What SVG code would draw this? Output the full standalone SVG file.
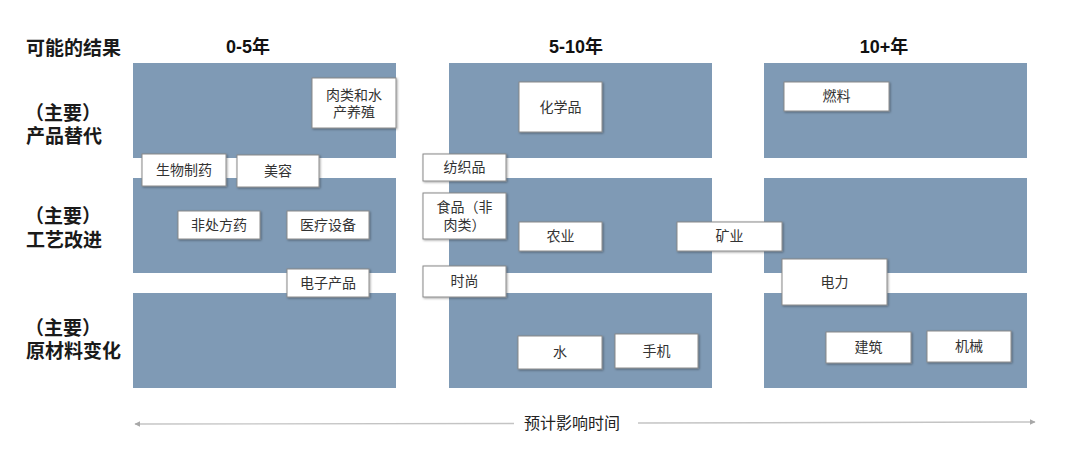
<svg xmlns="http://www.w3.org/2000/svg" width="1080" height="466" viewBox="0 0 1080 466">
<style>
.blk{fill:#7f9ab5}
.box{fill:#ffffff;stroke:#8a8a8a;stroke-width:1;filter:url(#sh)}
.t{font-family:"Noto Sans CJK SC","Liberation Sans",sans-serif;font-size:14px;fill:#333;text-anchor:middle}
.hd{font-family:"Liberation Sans","Noto Sans CJK SC",sans-serif;font-size:18px;font-weight:bold;fill:#111;text-anchor:middle}
.lb{font-family:"Noto Sans CJK SC","Liberation Sans",sans-serif;font-size:19px;font-weight:bold;fill:#1a1a1a}
.ax{stroke:#c4c4c4;stroke-width:1.4;fill:none}
</style>
<defs>
<filter id="sh" x="-10%" y="-10%" width="130%" height="140%">
<feDropShadow dx="1" dy="1" stdDeviation="0.8" flood-color="#000" flood-opacity="0.35"/>
</filter>
<marker id="ah" viewBox="0 0 10 10" refX="9" refY="5" markerWidth="6" markerHeight="6" orient="auto-start-reverse" markerUnits="userSpaceOnUse">
<path d="M0,0 L10,5 L0,10 z" fill="#a8a8a8"/>
</marker>
</defs>

<g id="headers">
<text class="lb" x="26" y="55">可能的结果</text>
<text class="hd" x="248" y="53">0-5年</text>
<text class="hd" x="576" y="53">5-10年</text>
<text class="hd" x="884" y="53">10+年</text>
</g>

<g id="row-labels">
<text class="lb" x="25" y="120">（主要）<tspan x="26" dy="23">产品替代</tspan></text>
<text class="lb" x="25" y="223">（主要）<tspan x="26" dy="24">工艺改进</tspan></text>
<text class="lb" x="25" y="335">（主要）<tspan x="26" dy="23">原材料变化</tspan></text>
</g>

<g id="grid">
<rect class="blk" x="133" y="63" width="263" height="95"/>
<rect class="blk" x="449" y="63" width="263" height="95"/>
<rect class="blk" x="764" y="63" width="263" height="95"/>
<rect class="blk" x="133" y="178" width="263" height="95"/>
<rect class="blk" x="449" y="178" width="263" height="95"/>
<rect class="blk" x="764" y="178" width="263" height="95"/>
<rect class="blk" x="133" y="293" width="263" height="95"/>
<rect class="blk" x="449" y="293" width="263" height="95"/>
<rect class="blk" x="764" y="293" width="263" height="95"/>
</g>

<g id="connectors">
<line class="ax" x1="135" y1="424" x2="514" y2="423.5" marker-start="url(#ah)"/>
<line class="ax" x1="638" y1="423" x2="1035" y2="422" marker-end="url(#ah)"/>
</g>
<text id="axis-label" class="t" x="572" y="429" style="font-size:16px;fill:#222">预计影响时间</text>

<g id="n-meat"><rect class="box" x="312" y="78" width="84" height="50"/><text class="t" x="354" y="100">肉类和水<tspan x="354" dy="17">产养殖</tspan></text></g>
<g id="n-biopharma"><rect class="box" x="142" y="154" width="84" height="32"/><text class="t" x="184" y="175">生物制药</text></g>
<g id="n-beauty"><rect class="box" x="237" y="155" width="82" height="32"/><text class="t" x="278" y="176">美容</text></g>
<g id="n-otc"><rect class="box" x="178" y="211" width="82" height="28"/><text class="t" x="219" y="230">非处方药</text></g>
<g id="n-medical"><rect class="box" x="287" y="211" width="82" height="28"/><text class="t" x="328" y="230">医疗设备</text></g>
<g id="n-electronics"><rect class="box" x="287" y="269" width="82" height="28"/><text class="t" x="328" y="288">电子产品</text></g>
<g id="n-textile"><rect class="box" x="423" y="154" width="83" height="27"/><text class="t" x="464.5" y="172">纺织品</text></g>
<g id="n-food"><rect class="box" x="423" y="193" width="83" height="46"/><text class="t" x="464.5" y="212">食品（非<tspan x="464.5" dy="18">肉类）</tspan></text></g>
<g id="n-fashion"><rect class="box" x="423" y="266" width="83" height="31"/><text class="t" x="464.5" y="286">时尚</text></g>
<g id="n-chem"><rect class="box" x="519" y="82" width="83" height="50"/><text class="t" x="560.5" y="112">化学品</text></g>
<g id="n-agri"><rect class="box" x="519" y="222" width="83" height="29"/><text class="t" x="560.5" y="241">农业</text></g>
<g id="n-mining"><rect class="box" x="677" y="222" width="105" height="29"/><text class="t" x="729.5" y="241">矿业</text></g>
<g id="n-fuel"><rect class="box" x="784" y="82" width="105" height="29"/><text class="t" x="836.5" y="101">燃料</text></g>
<g id="n-power"><rect class="box" x="782" y="259" width="105" height="46"/><text class="t" x="834.5" y="287">电力</text></g>
<g id="n-water"><rect class="box" x="518" y="336" width="84" height="33"/><text class="t" x="560" y="357">水</text></g>
<g id="n-phone"><rect class="box" x="615" y="334" width="83" height="34"/><text class="t" x="656.5" y="356">手机</text></g>
<g id="n-building"><rect class="box" x="826" y="332" width="85" height="31"/><text class="t" x="868.5" y="352">建筑</text></g>
<g id="n-machinery"><rect class="box" x="927" y="331" width="84" height="31"/><text class="t" x="969" y="351">机械</text></g>
</svg>
